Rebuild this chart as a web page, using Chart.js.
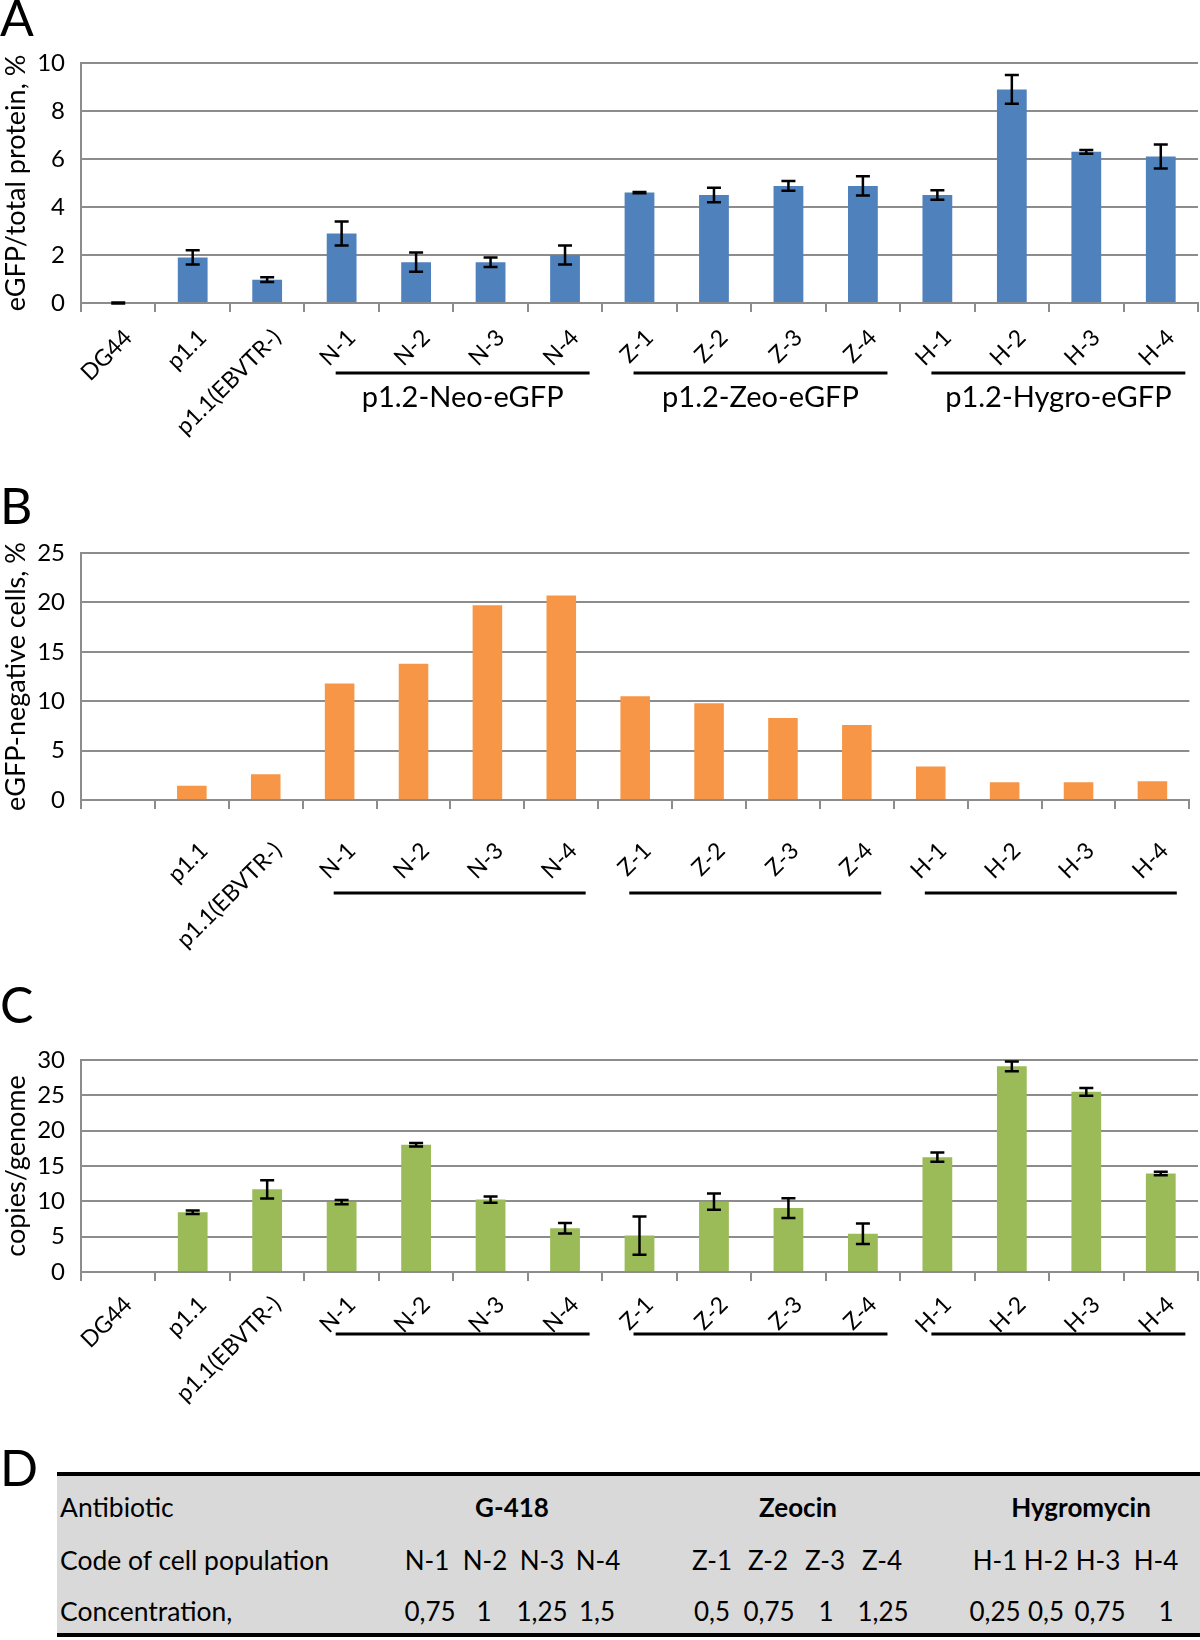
<!DOCTYPE html>
<html><head><meta charset="utf-8">
<script src="https://cdn.jsdelivr.net/npm/chart.js@4.4.0/dist/chart.umd.min.js"></script>
<style>
body{margin:0;background:#fff;width:1200px;height:1640px;position:relative;overflow:hidden;font-family:Lato,sans-serif;color:#000;}
canvas{position:absolute;left:0;}
.plabel{position:absolute;left:0;font-size:50px;line-height:1;}
#table{position:absolute;left:57px;top:1472px;width:1143px;height:165px;background:#d9d9d9;border-top:4px solid #000;border-bottom:4px solid #000;box-sizing:border-box;}
.cell{position:absolute;font-size:26px;line-height:1;white-space:nowrap;transform:translate(-50%,-50%);}
.rowhead{position:absolute;font-size:26.5px;line-height:1;white-space:nowrap;transform:translate(0,-50%);}
.bold{font-weight:bold;}
</style></head><body>
<div class="plabel" style="top:-8px">A</div>
<div class="plabel" style="top:480px">B</div>
<div class="plabel" style="top:979px">C</div>
<div class="plabel" style="top:1442px">D</div>
<div id="table"></div>
<div id="tabletext"></div>
<canvas id="cA" width="1200" height="460" style="top:0px"></canvas>
<canvas id="cB" width="1200" height="500" style="top:460px"></canvas>
<canvas id="cC" width="1200" height="480" style="top:960px"></canvas>
<script>
// ---------- data ----------
const categories = ['DG44','p1.1','p1.1(EBVTR-)','N-1','N-2','N-3','N-4','Z-1','Z-2','Z-3','Z-4','H-1','H-2','H-3','H-4'];
const categoriesB = ['','p1.1','p1.1(EBVTR-)','N-1','N-2','N-3','N-4','Z-1','Z-2','Z-3','Z-4','H-1','H-2','H-3','H-4'];
const proteinValues = [0, 1.9, 0.97, 2.9, 1.7, 1.7, 2.0, 4.6, 4.5, 4.88, 4.88, 4.5, 8.9, 6.3, 6.1];
const proteinErrors = [0.02, 0.3, 0.1, 0.5, 0.4, 0.2, 0.4, 0.03, 0.3, 0.2, 0.4, 0.2, 0.6, 0.08, 0.5];
const negativeValues = [null, 1.45, 2.6, 11.8, 13.8, 19.7, 20.7, 10.5, 9.8, 8.3, 7.6, 3.4, 1.8, 1.8, 1.9];
const copiesValues = [0, 8.45, 11.7, 9.9, 18.0, 10.25, 6.2, 5.15, 9.95, 9.05, 5.4, 16.25, 29.1, 25.5, 13.95];
const copiesErrors = [null, 0.25, 1.3, 0.3, 0.25, 0.45, 0.75, 2.7, 1.15, 1.4, 1.45, 0.65, 0.7, 0.55, 0.25];
const groupNames = ['p1.2-Neo-eGFP','p1.2-Zeo-eGFP','p1.2-Hygro-eGFP'];
const groupRanges = [[3,6],[7,10],[11,14]];
const yTitleA = 'eGFP/total protein, %';
const yTitleB = 'eGFP-negative cells, %';
const yTitleC = 'copies/genome';

const tableRowHeads = ['Antibiotic','Code of cell population','Concentration,'];
const antibiotics = ['G-418','Zeocin','Hygromycin'];
const populationCodes = ['N-1','N-2','N-3','N-4','Z-1','Z-2','Z-3','Z-4','H-1','H-2','H-3','H-4'];
const concentrations = ['0,75','1','1,25','1,5','0,5','0,75','1','1,25','0,25','0,5','0,75','1'];

// ---------- layout (not data) ----------
const antibioticX = [512, 798, 1081];
const codeX = [427, 485, 542, 598, 712, 768, 825, 882, 995, 1046, 1098, 1156];
const concX = [430, 484, 542, 597, 712, 769, 826, 883, 995, 1046, 1100, 1166];
const rowY = [1507, 1560, 1611];

const GRID = '#8c8c8c';
const FONT = 'Lato';

function makeErrorPlugin(errors) {
  return {
    id: 'errorBars',
    afterDatasetsDraw(chart) {
      if (!errors) return;
      const meta = chart.getDatasetMeta(0);
      const ys = chart.scales.y;
      const data = chart.data.datasets[0].data;
      const ctx = chart.ctx;
      ctx.save();
      ctx.strokeStyle = '#000';
      ctx.lineWidth = 2.5;
      meta.data.forEach((bar, i) => {
        const e = errors[i], v = data[i];
        if (e == null || v == null) return;
        const x = bar.x;
        const yt = ys.getPixelForValue(v + e), yb = ys.getPixelForValue(v - e);
        ctx.beginPath();
        ctx.moveTo(x, yt); ctx.lineTo(x, yb);
        ctx.moveTo(x - 7, yt); ctx.lineTo(x + 7, yt);
        ctx.moveTo(x - 7, yb); ctx.lineTo(x + 7, yb);
        ctx.stroke();
      });
      ctx.restore();
    }
  };
}

function makeGroupPlugin(cfg) {
  return {
    id: 'groups',
    afterDraw(chart) {
      const xs = chart.scales.x, ctx = chart.ctx;
      const cw = xs.getPixelForValue(1) - xs.getPixelForValue(0);
      const base = chart.chartArea.bottom;
      ctx.save();
      groupRanges.forEach((r, gi) => {
        const x0 = xs.getPixelForValue(r[0]) - 0.08 * cw;
        const x1 = xs.getPixelForValue(r[1]) + 0.33 * cw;
        ctx.strokeStyle = '#000';
        ctx.lineWidth = 3;
        ctx.beginPath();
        ctx.moveTo(x0, base + cfg.lineOffset);
        ctx.lineTo(x1, base + cfg.lineOffset);
        ctx.stroke();
        if (cfg.showText) {
          ctx.font = '29px ' + FONT;
          ctx.fillStyle = '#000';
          ctx.textAlign = 'center';
          ctx.textBaseline = 'middle';
          ctx.fillText(groupNames[gi], (x0 + x1) / 2, base + cfg.textOffset);
        }
      });
      ctx.restore();
    }
  };
}

function makeChart(id, labels, values, errors, color, yMax, yStep, yTitle, cfg) {
  return new Chart(document.getElementById(id), {
    type: 'bar',
    data: {
      labels: labels,
      datasets: [{ data: values, backgroundColor: color, borderWidth: 0, barPercentage: 0.4, categoryPercentage: 1.0 }]
    },
    options: {
      responsive: false,
      animation: false,
      events: [],
      layout: { padding: { top: cfg.top, right: 2, left: 0, bottom: 0 } },
      plugins: { legend: { display: false }, tooltip: { enabled: false } },
      scales: {
        x: {
          afterFit: (s) => { s.height = cfg.xHeight; },
          grid: { display: true, drawOnChartArea: false, drawTicks: true, tickLength: 9, color: GRID, lineWidth: 2, offset: true },
          border: { display: true, color: GRID, width: 2 },
          ticks: { autoSkip: false, maxRotation: 45, minRotation: 45, padding: cfg.labelPad, labelOffset: cfg.labelShift, color: '#000', font: { family: FONT, size: 23 } }
        },
        y: {
          min: 0, max: yMax,
          afterFit: (s) => { s.width = 81; },
          grid: { color: GRID, lineWidth: 2, drawTicks: false },
          border: { display: true, color: GRID, width: 2 },
          ticks: { stepSize: yStep, padding: 16, color: '#000', font: { family: FONT, size: 24 } },
          title: { display: true, text: yTitle, color: '#000', padding: 0, font: { family: FONT, size: 27 } }
        }
      }
    },
    plugins: [makeErrorPlugin(errors), makeGroupPlugin(cfg)]
  });
}

makeChart('cA', categories, proteinValues, proteinErrors, '#4f81bd', 10, 2, yTitleA,
  { top: 63, xHeight: 157, labelPad: 12, labelShift: 10, lineOffset: 70, textOffset: 95, showText: true });
makeChart('cB', categoriesB, negativeValues, null, '#f79646', 25, 5, yTitleB,
  { top: 93, xHeight: 160, labelPad: 28, labelShift: 12, lineOffset: 93, textOffset: 0, showText: false });
makeChart('cC', categories, copiesValues, copiesErrors, '#9bbb59', 30, 5, yTitleC,
  { top: 100, xHeight: 168, labelPad: 10, labelShift: 10, lineOffset: 62, textOffset: 0, showText: false });

// ---------- table D ----------
const tt = document.getElementById('tabletext');
function addText(txt, x, y, cls) {
  const d = document.createElement('div');
  d.className = cls;
  d.textContent = txt;
  d.style.left = x + 'px';
  d.style.top = y + 'px';
  tt.appendChild(d);
}
tableRowHeads.forEach((t, i) => addText(t, 60, rowY[i], 'rowhead'));
antibiotics.forEach((t, i) => addText(t, antibioticX[i], rowY[0], 'cell bold'));
populationCodes.forEach((t, i) => addText(t, codeX[i], rowY[1], 'cell'));
concentrations.forEach((t, i) => addText(t, concX[i], rowY[2], 'cell'));
</script>
</body></html>
